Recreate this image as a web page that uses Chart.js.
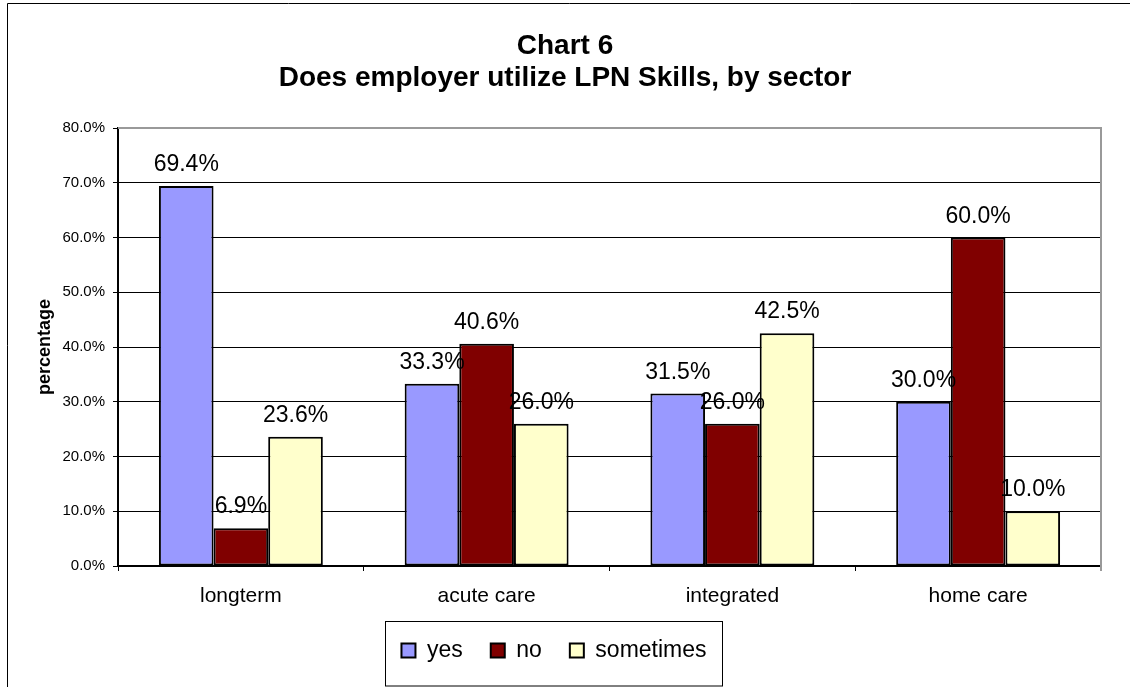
<!DOCTYPE html>
<html>
<head>
<meta charset="utf-8">
<title>Chart 6</title>
<script src="https://cdn.jsdelivr.net/npm/chart.js@4"></script>
<style>
  html, body { margin: 0; padding: 0; background: #fff; }
  #wrap { width: 1130px; height: 687px; }
</style>
</head>
<body>
<div id="wrap"><canvas id="chart6"></canvas></div>
<script>
const sectors = ["longterm", "acute care", "integrated", "home care"];
const yesValues = [69.4, 33.3, 31.5, 30.0];
const noValues = [6.9, 40.6, 26.0, 60.0];
const sometimesValues = [23.6, 26.0, 42.5, 10.0];
const yTicks = [0, 10, 20, 30, 40, 50, 60, 70, 80];

const FONT = "'Liberation Sans', Arial, sans-serif";

// white page with the thin frame Excel put round the chart
const frame = {
  id: "frame",
  beforeDraw(chart) {
    const c = chart.ctx;
    c.save();
    c.fillStyle = "#fff";
    c.fillRect(0, 0, chart.width, chart.height);
    c.strokeStyle = "#000";
    c.lineWidth = 1;
    c.beginPath();
    c.moveTo(7.5, chart.height + 2);
    c.lineTo(7.5, 3.5);
    c.lineTo(chart.width + 2, 3.5);
    c.stroke();
    c.restore();
  },
};

// gray top/right edge of the plot area
const plotEdge = {
  id: "plotEdge",
  beforeDatasetsDraw(chart) {
    const a = chart.chartArea;
    const c = chart.ctx;
    c.save();
    c.strokeStyle = "#999";
    c.lineWidth = 2;
    c.beginPath();
    c.moveTo(a.left, a.top);
    c.lineTo(a.right, a.top);
    c.lineTo(a.right, a.bottom + 5);
    c.stroke();
    c.restore();
  },
};

const valueLabels = {
  id: "valueLabels",
  afterDatasetsDraw(chart) {
    const c = chart.ctx;
    c.save();
    c.font = "23px " + FONT;
    c.fillStyle = "#000";
    c.textAlign = "center";
    c.textBaseline = "alphabetic";
    chart.data.datasets.forEach((ds, i) => {
      chart.getDatasetMeta(i).data.forEach((bar, j) => {
        c.fillText(ds.data[j].toFixed(1) + "%", bar.x, bar.y - 15);
      });
    });
    c.restore();
  },
};

// legend sits a little left of centre in the original, and has a box round it
const legendFrame = {
  id: "legendFrame",
  afterLayout(chart) {
    chart.legend.right -= 22;
  },
  afterDraw(chart) {
    const lg = chart.legend;
    if (!lg || !lg.lineWidths) return;
    const pad = lg.options.labels.padding;
    const startX = (lg.left + pad + lg.right - lg.lineWidths[0]) / 2;
    const endX = startX + lg.lineWidths[0] - pad;
    const mid = lg.top + pad + 23 / 2;
    const c = chart.ctx;
    c.save();
    c.strokeStyle = "#000";
    c.lineWidth = 1;
    const left = Math.round(startX - 16) + 0.5;
    const right = Math.round(endX + 15) + 0.5;
    const top = Math.round(mid - 30) + 0.5;
    c.strokeRect(left, top, right - left, chart.height - 1 - top);
    c.restore();
  },
};

function bars(label, data, color) {
  return {
    label: label,
    data: data,
    backgroundColor: color,
    borderColor: "#000",
    borderWidth: 2,
    borderSkipped: false,
    categoryPercentage: 0.667,
    barPercentage: 1.0,
  };
}

new Chart(document.getElementById("chart6"), {
  type: "bar",
  data: {
    labels: sectors,
    datasets: [
      bars("yes", yesValues, "#9999FF"),
      bars("no", noValues, "#800000"),
      bars("sometimes", sometimesValues, "#FFFFCC"),
    ],
  },
  plugins: [frame, plotEdge, valueLabels, legendFrame],
  options: {
    responsive: true,
    maintainAspectRatio: false,
    animation: false,
    layout: { padding: { top: 0, left: 0, right: 0, bottom: 15 } },
    plugins: {
      title: {
        display: true,
        text: ["Chart 6", "Does employer utilize LPN Skills, by sector"],
        color: "#000",
        font: { family: FONT, size: 28, weight: "bold", lineHeight: 1.143 },
        padding: { top: 30, bottom: 34 },
      },
      legend: {
        display: true,
        position: "bottom",
        labels: {
          color: "#000",
          font: { family: FONT, size: 23 },
          boxWidth: 14,
          boxHeight: 14,
          padding: 28,
        },
      },
      tooltip: { enabled: false },
    },
    scales: {
      x: {
        grid: {
          display: true,
          drawOnChartArea: false,
          drawTicks: true,
          tickLength: 5,
          color: "#000",
          lineWidth: 1,
        },
        border: { display: true, color: "#000", width: 2 },
        ticks: {
          color: "#000",
          font: { family: FONT, size: 21 },
          padding: 13,
          maxRotation: 0,
        },
        afterFit(scale) {
          scale.height = 45;
        },
      },
      y: {
        min: 0,
        max: 80,
        afterBuildTicks(scale) {
          scale.ticks = yTicks.map((v) => ({ value: v }));
        },
        grid: {
          color: "#000",
          lineWidth: 1,
          drawTicks: true,
          tickLength: 5,
        },
        border: { display: true, color: "#000", width: 2 },
        ticks: {
          color: "#000",
          font: { family: FONT, size: 15 },
          padding: 8,
          callback: (v) => Number(v).toFixed(1) + "%",
        },
        title: {
          display: true,
          text: "percentage",
          color: "#000",
          font: { family: FONT, size: 18, weight: "bold" },
          padding: { top: 34, bottom: 0 },
        },
        afterFit(scale) {
          scale.width = 118;
        },
      },
      yRight: {
        position: "right",
        display: true,
        grid: { display: false, drawOnChartArea: false },
        border: { display: false },
        ticks: { display: false },
        afterFit(scale) {
          scale.width = 29;
        },
      },
    },
  },
});
</script>
</body>
</html>
